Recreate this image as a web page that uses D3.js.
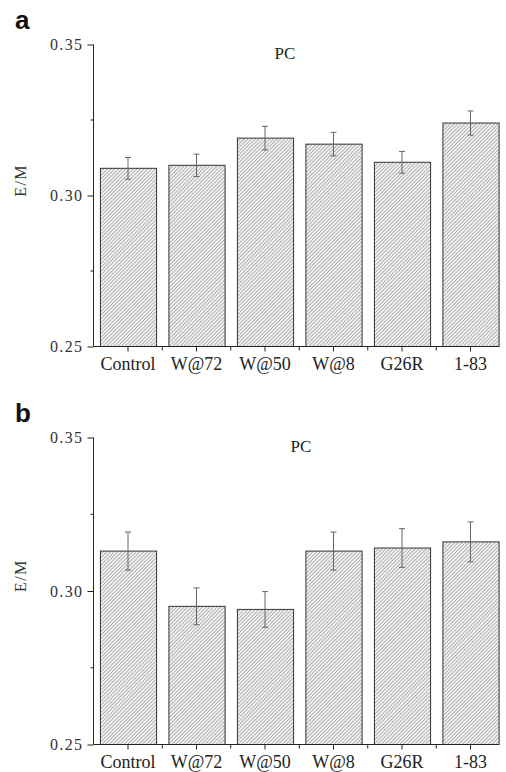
<!DOCTYPE html>
<html>
<head>
<meta charset="utf-8">
<script src="https://cdn.jsdelivr.net/npm/d3@7"></script>
<style>
  body { margin: 0; background: #fff; }
  svg { display: block; }
</style>
</head>
<body>
<script>
var categories = ["Control", "W@72", "W@50", "W@8", "G26R", "1-83"];
var valuesA = [0.309, 0.310, 0.319, 0.317, 0.311, 0.324];
var errorsA = [0.0036, 0.0037, 0.0039, 0.0039, 0.0036, 0.0040];
var valuesB = [0.313, 0.295, 0.294, 0.313, 0.314, 0.316];
var errorsB = [0.0062, 0.0060, 0.0058, 0.0062, 0.0063, 0.0065];
var yTicks = [0.25, 0.30, 0.35];
var yMinorTicks = [0.275, 0.325];

var width = 506, height = 772;

var svg = d3.select("body").append("svg")
    .attr("width", width)
    .attr("height", height);

// hatch fill for the bars
var hs = 2.6;
var pat = svg.append("defs").append("pattern")
    .attr("id", "hatch")
    .attr("patternUnits", "userSpaceOnUse")
    .attr("width", hs)
    .attr("height", hs)
    .attr("patternTransform", "rotate(45)");
pat.append("rect").attr("width", hs).attr("height", hs).attr("fill", "#f2f2f2");
pat.append("line")
    .attr("x1", 0).attr("y1", 0).attr("x2", 0).attr("y2", hs)
    .attr("stroke", "#808080").attr("stroke-width", 1.1);

var x = d3.scaleBand()
    .domain(categories)
    .range([93.75, 504.75])
    .paddingInner(0.18)
    .paddingOuter(0.09);

function panel(letter, values, errors, top, bottom, pcX) {
  var y = d3.scaleLinear().domain([0.25, 0.35]).range([bottom, top]);
  var g = svg.append("g");

  g.append("text")
      .attr("x", 15).attr("y", top - 16)
      .attr("font-family", "Liberation Sans, Arial, sans-serif")
      .attr("font-weight", "bold")
      .attr("font-size", 26)
      .attr("fill", "#111")
      .text(letter);

  g.append("text")
      .attr("x", pcX).attr("y", top + 14)
      .attr("text-anchor", "middle")
      .attr("font-family", "Liberation Serif, Times New Roman, serif")
      .attr("font-size", 17)
      .attr("fill", "#222")
      .text("PC");

  // y label
  g.append("text")
      .attr("transform", "translate(26," + (top + (bottom - top) * 0.45) + ") rotate(-90)")
      .attr("text-anchor", "middle")
      .attr("font-family", "Liberation Serif, Times New Roman, serif")
      .attr("font-size", 16)
      .attr("letter-spacing", 1.5)
      .attr("fill", "#333")
      .text("E/M");

  // bars
  g.selectAll(".bar")
      .data(values)
    .enter().append("rect")
      .attr("class", "bar")
      .attr("x", function(d, i) { return x(categories[i]) + 0.5; })
      .attr("y", function(d) { return y(d); })
      .attr("width", x.bandwidth())
      .attr("height", function(d) { return y(0.25) - y(d); })
      .attr("fill", "url(#hatch)")
      .attr("stroke", "#333")
      .attr("stroke-width", 1);

  // error bars
  var eb = g.selectAll(".err")
      .data(values)
    .enter().append("g")
      .attr("class", "err")
      .attr("stroke", "#666")
      .attr("stroke-width", 1);
  eb.append("line")
      .attr("x1", function(d, i) { return x(categories[i]) + x.bandwidth() / 2; })
      .attr("x2", function(d, i) { return x(categories[i]) + x.bandwidth() / 2; })
      .attr("y1", function(d, i) { return y(d + errors[i]); })
      .attr("y2", function(d, i) { return y(d - errors[i]); });
  [1, -1].forEach(function(s) {
    eb.append("line")
        .attr("x1", function(d, i) { return x(categories[i]) + x.bandwidth() / 2 - 3; })
        .attr("x2", function(d, i) { return x(categories[i]) + x.bandwidth() / 2 + 3; })
        .attr("y1", function(d, i) { return y(d + s * errors[i]); })
        .attr("y2", function(d, i) { return y(d + s * errors[i]); });
  });

  // y axis
  var yAxis = g.append("g")
      .attr("transform", "translate(93.5,0)")
      .call(d3.axisLeft(y).tickValues(yTicks).tickSize(6).tickPadding(4)
        .tickFormat(d3.format(".2f")));
  yAxis.select(".domain").attr("stroke", "#222").attr("d", "M0," + top + "V" + bottom);
  yAxis.selectAll(".tick line").attr("stroke", "#222");
  yAxis.selectAll(".tick text")
      .attr("font-family", "Liberation Serif, Times New Roman, serif")
      .attr("font-size", 16)
      .attr("letter-spacing", 1.4)
      .attr("fill", "#333");
  yAxis.selectAll(".minor")
      .data(yMinorTicks)
    .enter().append("line")
      .attr("x1", -3).attr("x2", 0)
      .attr("y1", function(d) { return y(d); })
      .attr("y2", function(d) { return y(d); })
      .attr("stroke", "#222");

  // x axis
  var xAxis = g.append("g")
      .attr("transform", "translate(0," + bottom + ")")
      .call(d3.axisBottom(x).tickSize(5).tickPadding(6));
  xAxis.select(".domain").remove();
  xAxis.selectAll(".tick line").attr("stroke", "#222");
  xAxis.selectAll(".tick text")
      .attr("font-family", "Liberation Serif, Times New Roman, serif")
      .attr("font-size", 18)
      .attr("fill", "#222");
  var last = categories[categories.length - 1];
  xAxis.append("line")
      .attr("x1", 93.5).attr("x2", x(last) + x.bandwidth() + 0.5)
      .attr("y1", 0).attr("y2", 0)
      .attr("stroke", "#222");
  xAxis.selectAll(".minor")
      .data(categories.slice(1))
    .enter().append("line")
      .attr("x1", function(d) { return x(d) - x.step() * x.paddingInner() / 2; })
      .attr("x2", function(d) { return x(d) - x.step() * x.paddingInner() / 2; })
      .attr("y1", 0).attr("y2", 4)
      .attr("stroke", "#222");
}

panel("a", valuesA, errorsA, 44.5, 346.5, 285);
panel("b", valuesB, errorsB, 437.5, 744.5, 301);
</script>
</body>
</html>
